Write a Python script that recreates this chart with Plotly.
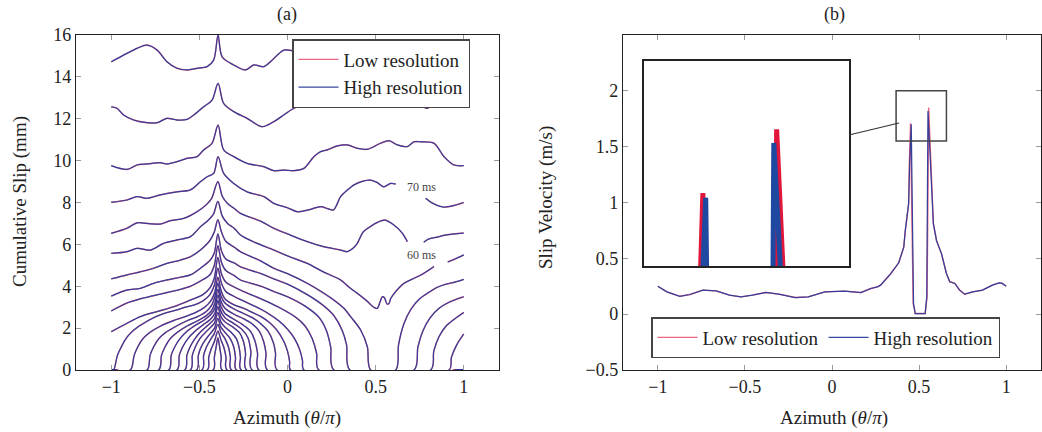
import plotly.graph_objects as go

# ---------------- data ----------------
# Panel (a): cumulative slip profiles (azimuth theta/pi, slip mm); None = gap under a label
C01_X = [-1.0, -0.911, -0.854, -0.797, -0.740, -0.684, -0.627, -0.570, -0.513, -0.456, -0.419, -0.394, -0.371, -0.305, -0.239, -0.191, -0.134, -0.097, -0.021, 0.027, 0.1, 0.2, 0.3, 0.4, 0.5, 0.6, 0.7, 0.8, 0.9, 1.0]
C01_Y = [14.72, 15.12, 15.36, 15.52, 15.28, 14.72, 14.41, 14.33, 14.41, 14.49, 14.80, 16.0, 14.96, 14.57, 14.33, 14.57, 14.49, 14.72, 15.28, 15.25, 15.1, 14.9, 15.0, 14.8, 14.9, 14.9, 14.7, 14.8, 14.7, 14.72]
C02_X = [-1.0, -0.968, -0.930, -0.873, -0.797, -0.740, -0.684, -0.627, -0.570, -0.532, -0.476, -0.428, -0.394, -0.362, -0.305, -0.229, -0.144, -0.078, -0.021, 0.036, 0.093, 0.169, 0.263, 0.358, 0.453, 0.547, 0.623, 0.661, 0.699, 0.756, 0.794, 0.831, 0.907, 1.0]
C02_Y = [12.57, 12.50, 12.18, 11.94, 11.81, 11.81, 12.02, 11.94, 11.97, 12.18, 12.57, 12.89, 13.69, 12.73, 12.34, 12.02, 11.62, 11.86, 12.18, 12.50, 12.65, 12.77, 12.65, 12.61, 12.69, 12.61, 12.70, 12.85, 12.73, 12.61, 12.50, 12.70, 12.69, 12.57]
C03_X = [-1.0, -0.911, -0.854, -0.797, -0.722, -0.684, -0.627, -0.570, -0.513, -0.476, -0.428, -0.394, -0.362, -0.305, -0.229, -0.134, -0.078, -0.021, 0.036, 0.093, 0.150, 0.188, 0.225, 0.282, 0.339, 0.396, 0.453, 0.528, 0.576, 0.623, 0.680, 0.718, 0.756, 0.831, 0.888, 0.945, 1.0]
C03_Y = [9.76, 9.58, 9.79, 9.84, 9.90, 9.84, 9.95, 10.11, 10.19, 10.51, 10.83, 11.70, 10.51, 10.19, 9.87, 9.71, 9.52, 9.55, 9.52, 9.63, 10.19, 10.43, 10.51, 10.70, 10.75, 10.59, 10.54, 10.83, 10.95, 10.75, 10.67, 10.90, 10.90, 10.83, 10.19, 9.79, 9.76]
C04_X = [-1.0, -0.911, -0.854, -0.797, -0.722, -0.627, -0.551, -0.494, -0.456, -0.419, -0.394, -0.362, -0.305, -0.229, -0.134, -0.078, 0.0, 0.055, 0.12, 0.188, 0.23, 0.261, 0.28, 0.301, 0.34, 0.375, 0.42, 0.472, 0.51, 0.545, 0.585, 0.614, None, 0.784, 0.82, 0.886, 0.955, 1.0]
C04_Y = [8.01, 8.12, 8.28, 8.20, 8.36, 8.51, 8.60, 8.99, 9.23, 9.39, 10.19, 9.39, 8.91, 8.51, 8.28, 7.96, 7.75, 7.56, 7.65, 7.80, 7.70, 7.64, 7.90, 8.28, 8.60, 8.83, 9.00, 9.07, 8.95, 8.75, 8.91, 8.88, None, 8.2, 7.98, 7.78, 7.88, 8.0]
C05_X = [-1.0, -0.911, -0.854, -0.797, -0.722, -0.665, -0.589, -0.513, -0.46, -0.43, -0.395, -0.37, -0.34, -0.3, -0.267, -0.15, -0.078, 0.0, 0.112, 0.2, 0.301, 0.339, 0.37, 0.396, 0.43, 0.47, 0.51, 0.55, 0.60, 0.65, 0.68, None, 0.773, 0.80, 0.85, 0.9, 1.0]
C05_Y = [6.53, 6.77, 7.03, 7.00, 6.97, 7.13, 7.24, 7.56, 7.9, 8.2, 9.0, 8.3, 7.95, 7.7, 7.48, 7.1, 6.77, 6.5, 6.13, 5.9, 5.73, 5.65, 5.8, 6.05, 6.6, 6.85, 7.05, 7.16, 6.95, 6.55, 6.13, None, 6.1, 6.25, 6.35, 6.45, 6.54]
C06_X = [-1.0, -0.911, -0.854, -0.778, -0.703, -0.627, -0.551, -0.494, -0.45, -0.42, -0.395, -0.37, -0.34, -0.3, -0.267, -0.2, -0.078, 0.0, 0.112, 0.2, 0.301, 0.35, 0.396, 0.45, 0.489, 0.509, 0.525, 0.538, 0.55, 0.565, 0.576, 0.585, 0.6, 0.661, 0.718, 0.76, 0.803, 0.831, None, 0.909, 0.95, 1.0]
C06_Y = [5.57, 5.65, 5.81, 5.73, 6.05, 6.21, 6.37, 6.84, 7.15, 7.45, 8.05, 7.35, 7.0, 6.75, 6.45, 6.15, 5.73, 5.45, 5.09, 4.7, 4.30, 3.95, 3.66, 3.3, 3.0, 2.94, 3.25, 3.50, 3.45, 3.15, 3.18, 3.4, 3.6, 4.14, 4.38, 4.55, 4.78, 4.94, None, 5.16, 5.3, 5.5]
C07_X = [-1.0, -0.911, -0.835, -0.76, -0.684, -0.608, -0.551, -0.494, -0.438, -0.415, -0.395, -0.375, -0.35, -0.3, -0.267, -0.15, -0.078, 0.0, 0.112, 0.2, 0.263, 0.32, 0.358, 0.415, 0.453, 0.472, 0.614, 0.63, 0.66, 0.70, 0.75, 0.80, 0.85, 0.90, 0.95, 1.0]
C07_Y = [4.35, 4.54, 4.69, 4.86, 5.09, 5.25, 5.41, 5.73, 6.21, 6.6, 7.18, 6.6, 6.15, 5.85, 5.65, 5.2, 4.86, 4.6, 4.14, 3.7, 3.34, 2.95, 2.55, 1.91, 1.11, 0.0, 0.0, 1.2, 2.2, 2.9, 3.4, 3.7, 3.95, 4.1, 4.2, 4.33]
C08_X = [-1.0, -0.911, -0.835, -0.76, -0.684, -0.608, -0.551, -0.494, -0.438, -0.415, -0.395, -0.375, -0.35, -0.3, -0.267, -0.15, -0.078, 0.0, 0.112, 0.2, 0.263, 0.31, 0.335, 0.354, 0.718, 0.74, 0.77, 0.81, 0.86, 0.92, 1.0]
C08_Y = [3.53, 3.82, 3.90, 4.14, 4.30, 4.43, 4.54, 4.86, 5.25, 5.6, 6.5, 5.7, 5.3, 5.1, 4.93, 4.6, 4.35, 4.1, 3.6, 3.1, 2.6, 1.9, 1.2, 0.0, 0.0, 1.1, 1.9, 2.5, 2.95, 3.25, 3.5]
C09_X = [-1.0, -0.911, -0.835, -0.76, -0.684, -0.608, -0.551, -0.494, -0.44, -0.415, -0.395, -0.375, -0.35, -0.3, -0.267, -0.15, -0.078, 0.0, 0.1, 0.18, 0.22, 0.245, 0.263, 0.8125, 0.83, 0.86, 0.9, 0.95, 1.0]
C09_Y = [2.82, 3.2, 3.4, 3.55, 3.7, 3.85, 4.0, 4.25, 4.55, 5.0, 5.94, 5.15, 4.75, 4.5, 4.3, 4.0, 3.75, 3.5, 3.05, 2.5, 1.9, 1.1, 0.0, 0.0, 0.9, 1.6, 2.1, 2.45, 2.75]
C10_X = [-1.0, -0.911, -0.835, -0.74, -0.646, -0.551, -0.48, -0.438, -0.415, -0.395, -0.375, -0.35, -0.3, -0.25, -0.15, -0.05, 0.05, 0.1, 0.14, 0.165, 0.178, 0.917, 0.93, 0.96, 1.0]
C10_Y = [1.83, 2.23, 2.55, 2.79, 3.02, 3.34, 3.6, 3.95, 4.4, 5.38, 4.6, 4.2, 3.95, 3.75, 3.4, 3.0, 2.5, 2.1, 1.5, 0.8, 0.0, 0.0, 0.6, 1.2, 1.72]
C11_X = [-1.0, -0.987, -0.965, -0.949, -0.92, -0.892, -0.85, -0.816, -0.77, -0.722, -0.68, -0.627, -0.58, -0.532, -0.48, -0.44, -0.415, -0.395, -0.375, -0.35, -0.3, -0.25, -0.2, -0.15, -0.1, -0.05, 0.0, 0.04, 0.07, 0.085, 0.093, 1.0]
C11_Y = [0.0, 0.0, 0.7, 1.0, 1.45, 1.75, 2.05, 2.23, 2.45, 2.63, 2.75, 2.87, 3.0, 3.1, 3.3, 3.6, 4.05, 4.86, 4.15, 3.75, 3.5, 3.3, 3.1, 2.9, 2.65, 2.35, 1.95, 1.5, 0.95, 0.45, 0.0, 0.0]
C12_X = [-1.0, -0.892, -0.87, -0.85, -0.82, -0.78, -0.72, -0.65, -0.58, -0.52, -0.47, -0.435, -0.413, -0.395, -0.377, -0.355, -0.3, -0.25, -0.2, -0.15, -0.1, -0.06, -0.02, 0.0, 0.012, 0.017, 1.0]
C12_Y = [0.0, 0.0, 0.7, 1.1, 1.5, 1.8, 2.1, 2.35, 2.55, 2.75, 3.0, 3.3, 3.7, 4.43, 3.8, 3.4, 3.1, 2.95, 2.75, 2.55, 2.25, 1.9, 1.35, 0.9, 0.4, 0.0, 0.0]
C13_X = [-1.0, -0.797, -0.78, -0.76, -0.73, -0.69, -0.63, -0.57, -0.51, -0.46, -0.43, -0.412, -0.395, -0.378, -0.355, -0.3, -0.25, -0.2, -0.15, -0.11, -0.08, -0.068, -0.059, 1.0]
C13_Y = [0.0, 0.0, 0.7, 1.1, 1.5, 1.8, 2.1, 2.35, 2.55, 2.8, 3.1, 3.5, 4.14, 3.55, 3.2, 2.9, 2.7, 2.5, 2.2, 1.85, 1.3, 0.8, 0.0, 0.0]
C14_X = [-1.0, -0.731, -0.715, -0.695, -0.665, -0.625, -0.57, -0.51, -0.46, -0.43, -0.412, -0.395, -0.378, -0.355, -0.3, -0.25, -0.2, -0.16, -0.135, -0.122, -0.115, 1.0]
C14_Y = [0.0, 0.0, 0.7, 1.1, 1.5, 1.8, 2.1, 2.35, 2.6, 2.85, 3.2, 3.85, 3.3, 2.95, 2.65, 2.45, 2.2, 1.85, 1.35, 0.8, 0.0, 0.0]
C15_X = [-1.0, -0.674, -0.66, -0.64, -0.61, -0.57, -0.52, -0.47, -0.435, -0.412, -0.395, -0.378, -0.355, -0.31, -0.26, -0.21, -0.185, -0.17, -0.163, 1.0]
C15_Y = [0.0, 0.0, 0.7, 1.1, 1.5, 1.85, 2.15, 2.4, 2.65, 2.95, 3.58, 3.05, 2.7, 2.45, 2.2, 1.85, 1.4, 0.8, 0.0, 0.0]
C16_X = [-1.0, -0.627, -0.614, -0.595, -0.565, -0.525, -0.48, -0.44, -0.413, -0.395, -0.378, -0.355, -0.31, -0.26, -0.225, -0.208, -0.201, 1.0]
C16_Y = [0.0, 0.0, 0.7, 1.1, 1.5, 1.85, 2.15, 2.4, 2.7, 3.31, 2.8, 2.5, 2.25, 1.95, 1.55, 0.9, 0.0, 0.0]
C17_X = [-1.0, -0.583, -0.571, -0.553, -0.525, -0.49, -0.45, -0.415, -0.395, -0.378, -0.355, -0.31, -0.27, -0.248, -0.238, -0.233, 1.0]
C17_Y = [0.0, 0.0, 0.7, 1.1, 1.5, 1.85, 2.15, 2.45, 3.02, 2.55, 2.3, 2.05, 1.75, 1.3, 0.8, 0.0, 0.0]
C18_X = [-1.0, -0.551, -0.54, -0.523, -0.497, -0.465, -0.435, -0.414, -0.395, -0.378, -0.355, -0.32, -0.29, -0.274, -0.267, -0.263, 1.0]
C18_Y = [0.0, 0.0, 0.7, 1.1, 1.5, 1.8, 2.05, 2.25, 2.74, 2.3, 2.05, 1.8, 1.5, 1.05, 0.6, 0.0, 0.0]
C19_X = [-1.0, -0.516, -0.506, -0.49, -0.465, -0.437, -0.414, -0.395, -0.378, -0.355, -0.325, -0.305, -0.295, -0.290, 1.0]
C19_Y = [0.0, 0.0, 0.7, 1.1, 1.45, 1.75, 2.0, 2.46, 2.05, 1.8, 1.5, 1.1, 0.6, 0.0, 0.0]
C20_X = [-1.0, -0.485, -0.476, -0.46, -0.437, -0.415, -0.395, -0.378, -0.355, -0.335, -0.324, -0.318, 1.0]
C20_Y = [0.0, 0.0, 0.7, 1.1, 1.45, 1.75, 2.18, 1.8, 1.5, 1.1, 0.6, 0.0, 0.0]
C21_X = [-1.0, -0.455, -0.447, -0.433, -0.413, -0.395, -0.378, -0.36, -0.349, -0.343, 1.0]
C21_Y = [0.0, 0.0, 0.6, 1.0, 1.4, 1.86, 1.45, 1.05, 0.6, 0.0, 0.0]
C22_X = [-1.0, -0.422, -0.415, -0.405, -0.395, -0.385, -0.376, -0.371, 1.0]
C22_Y = [0.0, 0.0, 0.6, 1.1, 1.54, 1.1, 0.6, 0.0, 0.0]

SLIP_CURVES = [(C01_X, C01_Y), (C02_X, C02_Y), (C03_X, C03_Y), (C04_X, C04_Y), (C05_X, C05_Y),
               (C06_X, C06_Y), (C07_X, C07_Y), (C08_X, C08_Y), (C09_X, C09_Y), (C10_X, C10_Y),
               (C11_X, C11_Y), (C12_X, C12_Y), (C13_X, C13_Y), (C14_X, C14_Y), (C15_X, C15_Y),
               (C16_X, C16_Y), (C17_X, C17_Y), (C18_X, C18_Y), (C19_X, C19_Y), (C20_X, C20_Y),
               (C21_X, C21_Y), (C22_X, C22_Y)]

CURVE_LABELS = ["70 ms", "60 ms"]
LABEL_X = [0.761, 0.761]
LABEL_Y = [8.74, 5.49]

# Panel (b): slip velocity (m/s)
VEL_HIGH_X = [-1.0, -0.948, -0.873, -0.816, -0.741, -0.665, -0.589, -0.523, -0.457, -0.381, -0.306, -0.211, -0.136, -0.041, 0.072, 0.166, 0.223, 0.261, 0.279, 0.336, 0.383, 0.412, 0.421, 0.431, 0.44, 0.446, 0.455, 0.468, 0.478, 0.535, 0.544, 0.551, 0.572, 0.582, 0.60, 0.629, 0.657, 0.676, 0.705, 0.733, 0.762, 0.808, 0.864, 0.921, 0.959, 0.978, 1.0]
VEL_HIGH_Y = [0.25, 0.20, 0.16, 0.176, 0.215, 0.209, 0.17, 0.155, 0.17, 0.194, 0.179, 0.149, 0.155, 0.20, 0.206, 0.194, 0.23, 0.245, 0.26, 0.36, 0.46, 0.60, 0.75, 0.90, 0.99, 1.35, 1.70, 0.096, 0.006, 0.006, 0.155, 1.82, 1.2, 0.81, 0.66, 0.54, 0.364, 0.29, 0.275, 0.215, 0.179, 0.20, 0.215, 0.26, 0.28, 0.275, 0.25]
VEL_LOW_X = [-1.0, -0.948, -0.873, -0.816, -0.741, -0.665, -0.589, -0.523, -0.457, -0.381, -0.306, -0.211, -0.136, -0.041, 0.072, 0.166, 0.223, 0.261, 0.279, 0.336, 0.383, 0.412, 0.421, 0.431, 0.44, 0.444, 0.451, 0.466, 0.478, 0.535, 0.546, 0.555, 0.574, 0.582, 0.60, 0.629, 0.657, 0.676, 0.705, 0.733, 0.762, 0.808, 0.864, 0.921, 0.959, 0.978, 1.0]
VEL_LOW_Y = [0.25, 0.20, 0.16, 0.176, 0.215, 0.209, 0.17, 0.155, 0.17, 0.194, 0.179, 0.149, 0.155, 0.20, 0.206, 0.194, 0.23, 0.245, 0.26, 0.36, 0.46, 0.60, 0.75, 0.90, 0.99, 1.35, 1.71, 0.096, 0.006, 0.006, 0.155, 1.85, 1.2, 0.81, 0.66, 0.54, 0.364, 0.29, 0.275, 0.215, 0.179, 0.20, 0.215, 0.26, 0.28, 0.275, 0.25]

X_TICKS = [-1, -0.5, 0, 0.5, 1]
X_TICKTEXT = ["\u22121", "\u22120.5", "0", "0.5", "1"]
Y1_TICKS = [0, 2, 4, 6, 8, 10, 12, 14, 16]
Y2_TICKS = [-0.5, 0, 0.5, 1, 1.5, 2]
Y2_TICKTEXT = ["\u22120.5", "0", "0.5", "1", "1.5", "2"]
ZOOM_X = [0.368, 0.657]
ZOOM_Y = [1.55, 2.0]

# ---------------- styling ----------------
RED = "#e0163c"
BLUE = "#27399a"
FONT = "Liberation Serif"
W, H = 1042, 432

def px_x(p):
    return p / W

def px_y(p):
    return 1 - p / H

fig = go.Figure()

for i, (xs, ys) in enumerate(SLIP_CURVES):
    fig.add_trace(go.Scatter(x=xs, y=ys, mode="lines", name="Low resolution",
                             line=dict(color=RED, width=1.45, shape="spline", smoothing=0.9),
                             opacity=0.65, showlegend=(i == 0), legend="legend",
                             xaxis="x", yaxis="y", hoverinfo="skip"))
for i, (xs, ys) in enumerate(SLIP_CURVES):
    fig.add_trace(go.Scatter(x=xs, y=ys, mode="lines", name="High resolution",
                             line=dict(color=BLUE, width=1.25, shape="spline", smoothing=0.9),
                             opacity=0.92, showlegend=(i == 0), legend="legend",
                             xaxis="x", yaxis="y", hoverinfo="skip"))

# panel (b) main
fig.add_trace(go.Scatter(x=VEL_LOW_X, y=VEL_LOW_Y, mode="lines", name="Low resolution",
                         line=dict(color=RED, width=1.4), opacity=0.65, legend="legend2",
                         xaxis="x2", yaxis="y2"))
fig.add_trace(go.Scatter(x=VEL_HIGH_X, y=VEL_HIGH_Y, mode="lines", name="High resolution",
                         line=dict(color=BLUE, width=1.25), opacity=0.92, legend="legend2",
                         xaxis="x2", yaxis="y2"))
# inset (magnified view)
fig.add_trace(go.Scatter(x=VEL_LOW_X, y=VEL_LOW_Y, mode="lines", showlegend=False,
                         line=dict(color=RED, width=5), xaxis="x3", yaxis="y3"))
fig.add_trace(go.Scatter(x=VEL_HIGH_X, y=VEL_HIGH_Y, mode="lines", showlegend=False,
                         line=dict(color="#1f48a0", width=5), xaxis="x3", yaxis="y3"))

tickfont = dict(family=FONT, size=18, color="#222")
common_axis = dict(showgrid=False, zeroline=False, showline=True, linecolor="#222", linewidth=1.3,
                   mirror="ticks", ticks="inside", ticklen=5, tickcolor="#9a9a9a", tickwidth=1,
                   tickfont=tickfont, automargin=False)

y_dom = [px_y(370), px_y(35)]
fig.update_layout(
    template="none",
    width=W, height=H, margin=dict(l=0, r=0, t=0, b=0, pad=0),
    paper_bgcolor="white", plot_bgcolor="white",
    font=dict(family=FONT, size=18, color="#222"),
    xaxis=dict(domain=[px_x(76), px_x(499)], range=[-1.2, 1.2], tickvals=X_TICKS, ticktext=X_TICKTEXT,
               anchor="y", **common_axis),
    yaxis=dict(domain=y_dom, range=[0, 16], tickvals=Y1_TICKS, anchor="x", **common_axis),
    xaxis2=dict(domain=[px_x(623), px_x(1041)], range=[-1.2, 1.2], tickvals=X_TICKS, ticktext=X_TICKTEXT,
                anchor="y2", **common_axis),
    yaxis2=dict(domain=y_dom, range=[-0.5, 2.5], tickvals=Y2_TICKS, ticktext=Y2_TICKTEXT,
                anchor="x2", **common_axis),
    xaxis3=dict(domain=[px_x(644), px_x(849)], range=ZOOM_X, anchor="y3", showgrid=False, zeroline=False,
                showticklabels=False, ticks="", showline=True, mirror=True, linecolor="#222", linewidth=2,
                automargin=False),
    yaxis3=dict(domain=[px_y(266), px_y(61)], range=ZOOM_Y, anchor="x3", showgrid=False, zeroline=False,
                showticklabels=False, ticks="", showline=True, mirror=True, linecolor="#222", linewidth=2,
                automargin=False),
    legend=dict(x=px_x(292), y=px_y(39), xanchor="left", yanchor="top", bgcolor="white",
                bordercolor="#444", borderwidth=1.5, font=dict(family=FONT, size=19, color="#222"),
                tracegroupgap=0, itemwidth=40),
    legend2=dict(x=px_x(651), y=px_y(317), xanchor="left", yanchor="top", orientation="h",
                 bgcolor="white", bordercolor="#444", borderwidth=1.5,
                 font=dict(family=FONT, size=19, color="#222"), itemwidth=40),
    showlegend=True,
)

# zoom-box and connector
fig.add_shape(type="rect", xref="x2", yref="y2", x0=ZOOM_X[0], x1=ZOOM_X[1], y0=ZOOM_Y[0], y1=ZOOM_Y[1],
              line=dict(color="#444", width=1.5))
fig.add_shape(type="line", xref="paper", yref="paper", x0=px_x(849), y0=px_y(135), x1=px_x(899), y1=px_y(123),
              line=dict(color="#333", width=1.2))

def label(text, x, y, size, angle=0):
    return dict(text=text, x=x, y=y, xref="paper", yref="paper", showarrow=False, textangle=angle,
                xanchor="center", yanchor="middle", font=dict(size=size))

annotations = [
    label("(a)", px_x(287), px_y(14), 18),
    label("(b)", px_x(834), px_y(14), 18),
    label("Azimuth (<i>θ</i>/<i>π</i>)", px_x(287), px_y(418), 19),
    label("Azimuth (<i>θ</i>/<i>π</i>)", px_x(834), px_y(418), 19),
    label("Cumulative Slip (mm)", px_x(20), px_y(202), 19, -90),
    label("Slip Velocity (m/s)", px_x(546), px_y(198), 19, -90),
]
for t, lx, ly in zip(CURVE_LABELS, LABEL_X, LABEL_Y):
    annotations.append(dict(text=t, x=lx, y=ly, xref="x", yref="y", showarrow=False,
                            xanchor="center", yanchor="middle", font=dict(size=12, color="#444")))
fig.update_layout(annotations=annotations)

fig.write_html("out.html", config={"displayModeBar": False},
               post_script="document.body.style.margin='0';document.body.style.overflow='hidden';")
